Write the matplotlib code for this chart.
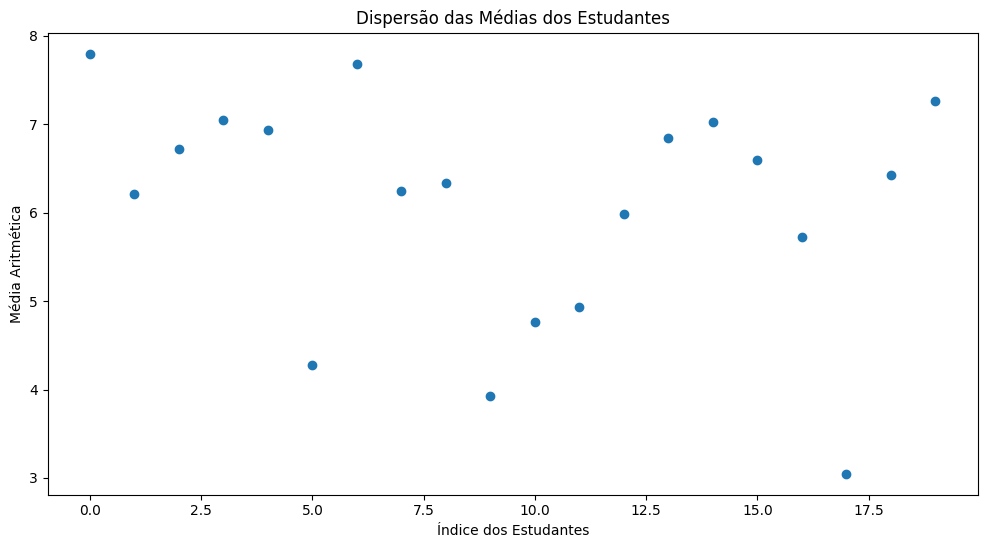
import matplotlib
matplotlib.use('Agg')
import matplotlib.pyplot as plt

# indice dos estudantes e medias
indices = list(range(20))
medias = [7.80, 6.21, 6.72, 7.05, 6.93, 4.28, 7.68, 6.25, 6.33, 3.93,
          4.76, 4.93, 5.98, 6.85, 7.03, 6.60, 5.73, 3.05, 6.43, 7.26]

fig = plt.figure(figsize=(9.88, 5.48), dpi=100)
ax = fig.add_axes([47.7/988, 1-494.5/548, 930/988, 462/548])
ax.scatter(indices, medias)
ax.set_title('Dispersão das Médias dos Estudantes')
ax.set_xlabel('Índice dos Estudantes')
ax.set_ylabel('Média Aritmética')

plt.savefig('out.png')
plt.close()
